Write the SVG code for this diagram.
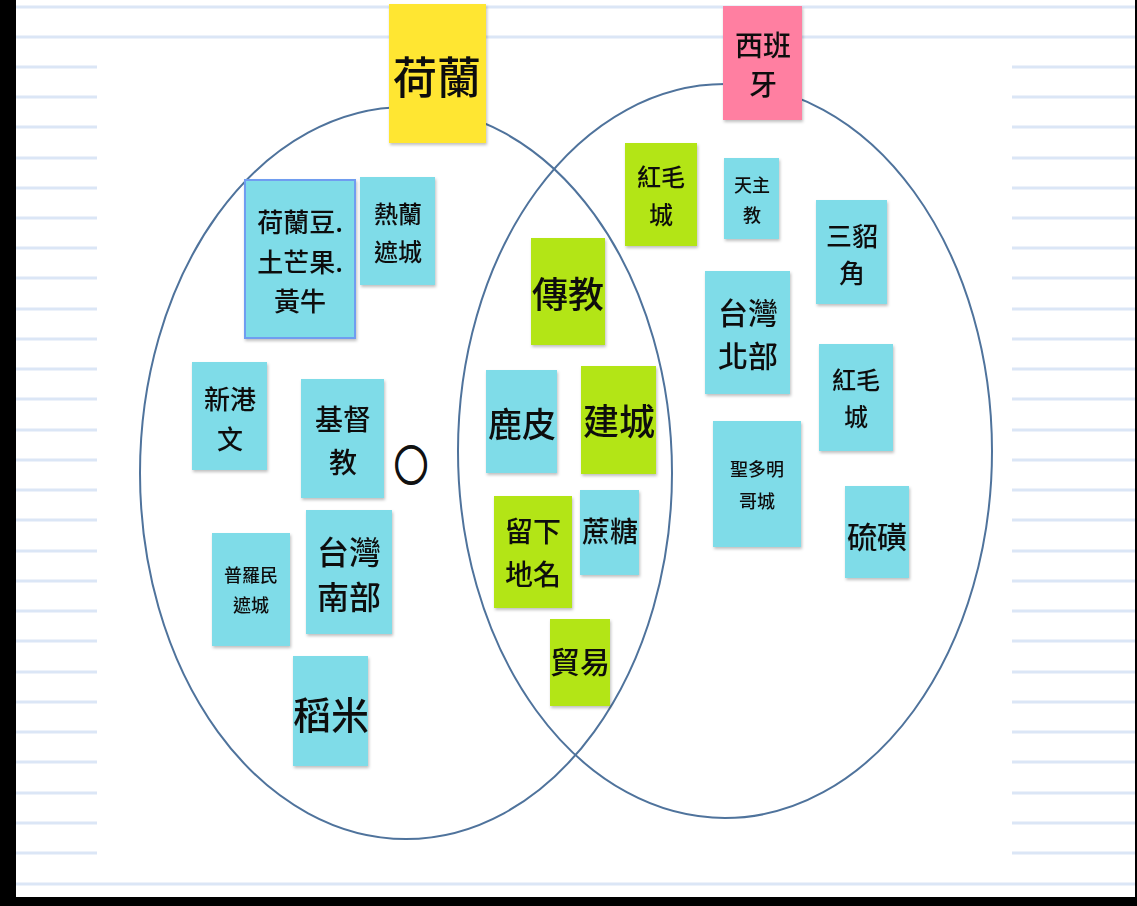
<svg xmlns="http://www.w3.org/2000/svg" width="1137" height="906" viewBox="0 0 1137 906">
<defs>
<filter id="sh" x="-10%" y="-10%" width="130%" height="130%">
<feDropShadow dx="1" dy="2" stdDeviation="1.5" flood-color="#000" flood-opacity="0.25"/>
</filter>
<style>
.bl{stroke:#dbe6f6;stroke-width:3}
.ring{fill:none;stroke:#4f739c;stroke-width:2}
.blue{fill:#7fdce8}
.green{fill:#b3e512}
.yellow{fill:#ffe633}
.pink{fill:#ff7fa1}
text{font-family:"Noto Sans CJK TC","Noto Sans CJK SC",sans-serif;font-weight:500;fill:#111;text-anchor:middle;dominant-baseline:central}
</style>
</defs>
<rect width="1137" height="906" fill="#ffffff"/>
<g id="paper-lines">
<line class="bl" x1="16" y1="7" x2="1137" y2="7"/>
<line class="bl" x1="16" y1="37" x2="1137" y2="37"/>
<line class="bl" x1="16" y1="884" x2="1137" y2="884"/>
<g id="left-lines">
<line class="bl" x1="16" y1="67" x2="97" y2="67"/><line class="bl" x1="16" y1="97" x2="97" y2="97"/><line class="bl" x1="16" y1="127" x2="97" y2="127"/><line class="bl" x1="16" y1="158" x2="97" y2="158"/><line class="bl" x1="16" y1="188" x2="97" y2="188"/><line class="bl" x1="16" y1="218" x2="97" y2="218"/><line class="bl" x1="16" y1="248" x2="97" y2="248"/><line class="bl" x1="16" y1="278" x2="97" y2="278"/><line class="bl" x1="16" y1="309" x2="97" y2="309"/><line class="bl" x1="16" y1="339" x2="97" y2="339"/><line class="bl" x1="16" y1="369" x2="97" y2="369"/><line class="bl" x1="16" y1="399" x2="97" y2="399"/><line class="bl" x1="16" y1="430" x2="97" y2="430"/><line class="bl" x1="16" y1="460" x2="97" y2="460"/><line class="bl" x1="16" y1="490" x2="97" y2="490"/><line class="bl" x1="16" y1="520" x2="97" y2="520"/><line class="bl" x1="16" y1="551" x2="97" y2="551"/><line class="bl" x1="16" y1="581" x2="97" y2="581"/><line class="bl" x1="16" y1="611" x2="97" y2="611"/><line class="bl" x1="16" y1="641" x2="97" y2="641"/><line class="bl" x1="16" y1="672" x2="97" y2="672"/><line class="bl" x1="16" y1="702" x2="97" y2="702"/><line class="bl" x1="16" y1="732" x2="97" y2="732"/><line class="bl" x1="16" y1="762" x2="97" y2="762"/><line class="bl" x1="16" y1="793" x2="97" y2="793"/><line class="bl" x1="16" y1="823" x2="97" y2="823"/><line class="bl" x1="16" y1="853" x2="97" y2="853"/>
</g>
<g id="right-lines">
<line class="bl" x1="1012" y1="67" x2="1137" y2="67"/><line class="bl" x1="1012" y1="97" x2="1137" y2="97"/><line class="bl" x1="1012" y1="127" x2="1137" y2="127"/><line class="bl" x1="1012" y1="158" x2="1137" y2="158"/><line class="bl" x1="1012" y1="188" x2="1137" y2="188"/><line class="bl" x1="1012" y1="218" x2="1137" y2="218"/><line class="bl" x1="1012" y1="248" x2="1137" y2="248"/><line class="bl" x1="1012" y1="278" x2="1137" y2="278"/><line class="bl" x1="1012" y1="309" x2="1137" y2="309"/><line class="bl" x1="1012" y1="339" x2="1137" y2="339"/><line class="bl" x1="1012" y1="369" x2="1137" y2="369"/><line class="bl" x1="1012" y1="399" x2="1137" y2="399"/><line class="bl" x1="1012" y1="430" x2="1137" y2="430"/><line class="bl" x1="1012" y1="460" x2="1137" y2="460"/><line class="bl" x1="1012" y1="490" x2="1137" y2="490"/><line class="bl" x1="1012" y1="520" x2="1137" y2="520"/><line class="bl" x1="1012" y1="551" x2="1137" y2="551"/><line class="bl" x1="1012" y1="581" x2="1137" y2="581"/><line class="bl" x1="1012" y1="611" x2="1137" y2="611"/><line class="bl" x1="1012" y1="641" x2="1137" y2="641"/><line class="bl" x1="1012" y1="672" x2="1137" y2="672"/><line class="bl" x1="1012" y1="702" x2="1137" y2="702"/><line class="bl" x1="1012" y1="732" x2="1137" y2="732"/><line class="bl" x1="1012" y1="762" x2="1137" y2="762"/><line class="bl" x1="1012" y1="793" x2="1137" y2="793"/><line class="bl" x1="1012" y1="823" x2="1137" y2="823"/><line class="bl" x1="1012" y1="853" x2="1137" y2="853"/>
</g>
</g>
<g id="frame">
<rect x="0" y="0" width="16" height="906" fill="#000"/>
<rect x="1135" y="0" width="2" height="906" fill="#000"/>
<rect x="0" y="897" width="1137" height="9" fill="#000"/>
</g>
<g id="sets">
<ellipse id="set-holland" class="ring" cx="406" cy="473" rx="266" ry="366"/>
<ellipse id="set-spain" class="ring" cx="725" cy="451" rx="267" ry="367"/>
</g>
<g id="n-holland" filter="url(#sh)"><rect class="yellow" x="389" y="4" width="97" height="139"/><text x="437" y="75" font-size="44">荷蘭</text></g>
<g id="n-spain" filter="url(#sh)"><rect class="pink" x="723" y="6" width="79" height="114"/><text x="763" y="44" font-size="28">西班</text><text x="763" y="83" font-size="28">牙</text></g>
<g id="n-beans" filter="url(#sh)"><rect class="blue" x="245" y="180" width="110" height="158" stroke="#6f9df0" stroke-width="2"/><text x="300" y="220" font-size="26">荷蘭豆.</text><text x="300" y="260" font-size="26">土芒果.</text><text x="300" y="299" font-size="26">黃牛</text></g>
<g id="n-zeelandia" filter="url(#sh)"><rect class="blue" x="360" y="177" width="75" height="108"/><text x="398" y="212" font-size="24">熱蘭</text><text x="398" y="250" font-size="24">遮城</text></g>
<g id="n-sinkan" filter="url(#sh)"><rect class="blue" x="192" y="362" width="75" height="108"/><text x="230" y="397" font-size="26">新港</text><text x="230" y="437" font-size="26">文</text></g>
<g id="n-christ" filter="url(#sh)"><rect class="blue" x="301" y="379" width="83" height="119"/><text x="343" y="418" font-size="28">基督</text><text x="343" y="461" font-size="28">教</text></g>
<g id="n-circle"><text transform="translate(411 463) scale(0.8 1)" x="0" y="0" font-size="42" stroke="#111" stroke-width="2.2" fill="none">○</text></g>
<g id="n-provintia" filter="url(#sh)"><rect class="blue" x="212" y="533" width="78" height="113"/><text x="251" y="574" font-size="18">普羅民</text><text x="251" y="604" font-size="18">遮城</text></g>
<g id="n-south" filter="url(#sh)"><rect class="blue" x="306" y="510" width="86" height="124"/><text x="349" y="550" font-size="32">台灣</text><text x="349" y="595" font-size="32">南部</text></g>
<g id="n-rice" filter="url(#sh)"><rect class="blue" x="293" y="656" width="75" height="110"/><text x="331" y="712" font-size="38">稻米</text></g>
<g id="n-mission" filter="url(#sh)"><rect class="green" x="531" y="238" width="74" height="107"/><text x="568" y="292" font-size="36">傳教</text></g>
<g id="n-deerskin" filter="url(#sh)"><rect class="blue" x="486" y="370" width="71" height="103"/><text x="522" y="422" font-size="34">鹿皮</text></g>
<g id="n-build" filter="url(#sh)"><rect class="green" x="581" y="366" width="75" height="108"/><text x="619" y="419" font-size="36">建城</text></g>
<g id="n-names" filter="url(#sh)"><rect class="green" x="494" y="496" width="78" height="112"/><text x="533" y="530" font-size="28">留下</text><text x="533" y="573" font-size="28">地名</text></g>
<g id="n-sugar" filter="url(#sh)"><rect class="blue" x="580" y="490" width="59" height="85"/><text x="610" y="530" font-size="28">蔗糖</text></g>
<g id="n-trade" filter="url(#sh)"><rect class="green" x="550" y="619" width="60" height="87"/><text x="580" y="660" font-size="30">貿易</text></g>
<g id="n-redfort-g" filter="url(#sh)"><rect class="green" x="625" y="143" width="72" height="103"/><text x="661" y="175" font-size="24">紅毛</text><text x="661" y="213" font-size="24">城</text></g>
<g id="n-catholic" filter="url(#sh)"><rect class="blue" x="724" y="158" width="55" height="81"/><text x="752" y="184" font-size="18">天主</text><text x="752" y="214" font-size="18">教</text></g>
<g id="n-santiago" filter="url(#sh)"><rect class="blue" x="816" y="200" width="71" height="104"/><text x="852" y="234" font-size="26">三貂</text><text x="852" y="271" font-size="26">角</text></g>
<g id="n-north" filter="url(#sh)"><rect class="blue" x="705" y="271" width="85" height="123"/><text x="748" y="311" font-size="30">台灣</text><text x="748" y="354" font-size="30">北部</text></g>
<g id="n-redfort-b" filter="url(#sh)"><rect class="blue" x="819" y="344" width="74" height="107"/><text x="856" y="378" font-size="24">紅毛</text><text x="856" y="415" font-size="24">城</text></g>
<g id="n-domingo" filter="url(#sh)"><rect class="blue" x="713" y="421" width="88" height="126"/><text x="757" y="468" font-size="18">聖多明</text><text x="757" y="500" font-size="18">哥城</text></g>
<g id="n-sulfur" filter="url(#sh)"><rect class="blue" x="845" y="486" width="64" height="92"/><text x="877" y="535" font-size="30">硫磺</text></g>
</svg>
